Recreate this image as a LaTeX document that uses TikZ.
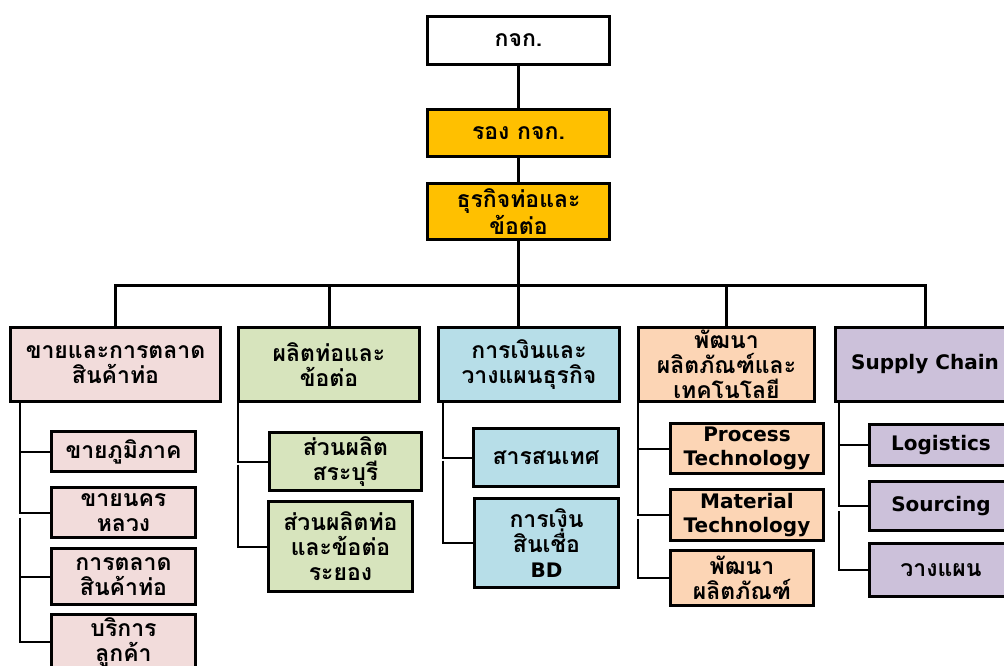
\documentclass[tikz,border=0pt]{standalone}
\usepackage{fontspec}
\newfontfamily\thaifont[Script=Thai]{Loma}
\newfontfamily\latinfont{DejaVu Sans}
\definecolor{gold}{HTML}{FFC000}
\definecolor{pinkbox}{HTML}{F2DCDB}
\definecolor{greenbox}{HTML}{D7E4BD}
\definecolor{bluebox}{HTML}{B7DEE8}
\definecolor{peachbox}{HTML}{FCD5B5}
\definecolor{lilacbox}{HTML}{CCC1DA}
\begin{document}
\begin{tikzpicture}[x=1pt,y=-1pt,
  box/.style={draw=black, line width=3pt, inner sep=0pt, outer sep=0pt,
    align=center, text=black,
    font=\thaifont\bfseries\fontsize{23}{25}\selectfont},
  en/.style={font=\latinfont\bfseries\fontsize{20}{24}\selectfont},
  trunk/.style={line width=3pt},
  link/.style={line width=2pt},
  sz/.style 2 args={minimum width=#1pt, minimum height=#2pt}]
\useasboundingbox (0,0) rectangle (1004,666);
\clip (0,0) rectangle (1004,666);

% top of the chart
\node[box, fill=white, sz={182}{48}] (top) at (518.5,40.5) {กจก.};
\node[box, fill=gold, sz={182}{47}] (dep) at (518.5,133) {รอง กจก.};
\node[box, fill=gold, sz={182}{56}] (biz) at (518.5,211.5) {ธุรกิจท่อและ\\ข้อต่อ};

% departments
\node[box, fill=pinkbox, sz={210}{74}] (s1) at (115.5,364.5) {ขายและการตลาด\\สินค้าท่อ};
\node[box, fill=greenbox, sz={181}{74}] (s2) at (329,364.5) {ผลิตท่อและ\\ข้อต่อ};
\node[box, fill=bluebox, sz={181}{74}] (s3) at (529,364.5) {การเงินและ\\วางแผนธุรกิจ};
\node[box, fill=peachbox, sz={176}{74}] (s4) at (726.5,364.5) {พัฒนา\\ผลิตภัณฑ์และ\\เทคโนโลยี};
\node[box, fill=lilacbox, sz={179}{74}, en] (s5) at (925,364.5) {Supply Chain};

% sales and marketing units
\node[box, fill=pinkbox, sz={144}{40}] (s1a) at (123.5,451.5) {ขายภูมิภาค};
\node[box, fill=pinkbox, sz={144}{50}] (s1b) at (123.5,512.5) {ขายนคร\\หลวง};
\node[box, fill=pinkbox, sz={144}{56}] (s1c) at (123.5,576.5) {การตลาด\\สินค้าท่อ};
\node[box, fill=pinkbox, sz={144}{56}] (s1d) at (123.5,642) {บริการ\\ลูกค้า};

% production units
\node[box, fill=greenbox, sz={152}{58}] (s2a) at (345.5,461.5) {ส่วนผลิต\\สระบุรี};
\node[box, fill=greenbox, sz={144}{90}] (s2b) at (340.5,546.5) {ส่วนผลิตท่อ\\และข้อต่อ\\ระยอง};

% finance units
\node[box, fill=bluebox, sz={145}{58}] (s3a) at (546,457.5) {สารสนเทศ};
\node[box, fill=bluebox, sz={144}{89}] (s3b) at (546.5,543) {การเงิน\\สินเชื่อ\\{\latinfont\fontsize{20}{25}\selectfont BD}};

% development units
\node[box, fill=peachbox, sz={153}{50}, en] (s4a) at (747,448.5) {Process\\Technology};
\node[box, fill=peachbox, sz={153}{51}, en] (s4b) at (747,515) {Material\\Technology};
\node[box, fill=peachbox, sz={143}{55}] (s4c) at (742,578) {พัฒนา\\ผลิตภัณฑ์};

% supply chain units
\node[box, fill=lilacbox, sz={143}{41}, en] (s5a) at (941,445) {Logistics};
\node[box, fill=lilacbox, sz={143}{49}, en] (s5b) at (941,506) {Sourcing};
\node[box, fill=lilacbox, sz={143}{53}] (s5c) at (941,570) {วางแผน};

% trunk and bus
\draw[trunk] (top) -- (dep);
\draw[trunk] (dep) -- (biz);
\coordinate (bus) at ([yshift=-45.5pt]biz.south);
\draw[trunk] (biz.south) -- (bus);
\draw[trunk] (s1.north) |- (bus) -| (s5.north);
\draw[trunk] (s2.north) -- (s2.north |- bus);
\draw[trunk] (s4.north) -- (s4.north |- bus);
\draw[trunk] (bus) -- (bus |- s3.north);

% sales and marketing links
\coordinate (k1) at ([xshift=9.5pt]s1.south west);
\draw[link] (k1) |- (s1a.west);
\draw[link] (k1) |- (s1b.west);
\draw[link] ([yshift=-5pt]k1 |- s1b.west) |- (s1d.west);
\draw[link] (k1 |- s1c.west) -- (s1c.west);

% production links
\coordinate (k2) at ([xshift=-0.5pt]s2.south west);
\draw[link] (k2) |- (s2a.west);
\draw[link] ([yshift=-3pt]k2 |- s2a.west) |- (s2b.west);

% finance links
\coordinate (k3) at ([xshift=4.5pt]s3.south west);
\draw[link] (k3) |- (s3a.west);
\draw[link] ([yshift=-3pt]k3 |- s3a.west) |- (s3b.west);

% development links
\coordinate (k4) at ([xshift=-0.5pt]s4.south west);
\draw[link] (k4) |- (s4a.west);
\draw[link] (k4) |- (s4b.west);
\draw[link] ([yshift=-4pt]k4 |- s4b.west) |- (s4c.west);

% supply chain links
\coordinate (k5) at ([xshift=3.5pt]s5.south west);
\draw[link] (k5) |- (s5a.west);
\draw[link] (k5) |- (s5b.west);
\draw[link] ([yshift=-5pt]k5 |- s5b.west) |- (s5c.west);
\end{tikzpicture}
\end{document}
